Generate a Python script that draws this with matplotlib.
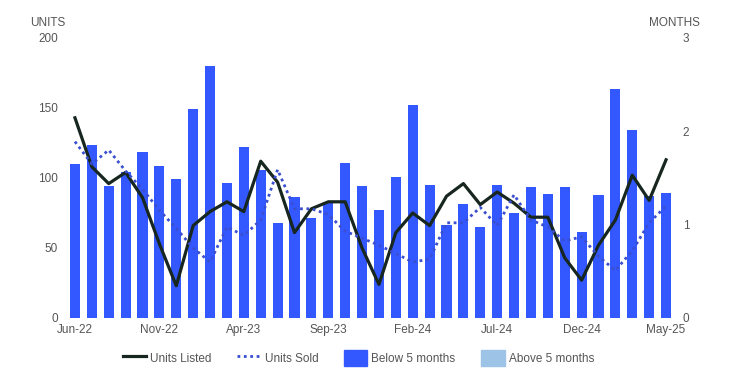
import matplotlib.pyplot as plt
from matplotlib.lines import Line2D
from matplotlib.patches import Patch

plt.rcParams['font.family'] = ['Liberation Sans', 'DejaVu Sans']

months = ["Jun-22", "Jul-22", "Aug-22", "Sep-22", "Oct-22", "Nov-22",
          "Dec-22", "Jan-23", "Feb-23", "Mar-23", "Apr-23", "May-23",
          "Jun-23", "Jul-23", "Aug-23", "Sep-23", "Oct-23", "Nov-23",
          "Dec-23", "Jan-24", "Feb-24", "Mar-24", "Apr-24", "May-24",
          "Jun-24", "Jul-24", "Aug-24", "Sep-24", "Oct-24", "Nov-24",
          "Dec-24", "Jan-25", "Feb-25", "Mar-25", "Apr-25", "May-25"]

units_listed = [143, 108, 96, 104, 86, 53, 23, 66, 76, 83, 76, 112,
                97, 61, 78, 83, 83, 50, 24, 61, 75, 66, 87, 96,
                81, 90, 82, 72, 72, 43, 27, 52, 70, 102, 84, 113]

units_sold = [126, 110, 120, 105, 92, 77, 64, 50, 40, 65, 59, 70,
              106, 78, 78, 74, 62, 57, 52, 46, 40, 42, 68, 68,
              79, 66, 88, 70, 65, 55, 58, 44, 34, 48, 68, 80]

# months of inventory (right axis)
below_5 = [1.65, 1.85, 1.41, 1.56, 1.78, 1.63, 1.49, 2.24, 2.70, 1.45, 1.83, 1.59,
           1.02, 1.30, 1.07, 1.23, 1.66, 1.41, 1.16, 1.51, 2.28, 1.43, 1.00, 1.22,
           0.98, 1.43, 1.13, 1.40, 1.33, 1.40, 0.92, 1.32, 2.45, 2.01, 1.31, 1.34]

BAR_COLOR = "#3358FF"
LIGHT_COLOR = "#9DC3E6"
LISTED_COLOR = "#17271F"
SOLD_COLOR = "#3A4FD0"
TEXT_COLOR = "#555555"
SOLD_STYLE = (0, (1, 1.3))

fig = plt.figure(figsize=(7.34, 3.9), dpi=100)
ax = fig.add_axes([66.5 / 734, 72 / 390, 608 / 734, 280 / 390])
ax2 = ax.twinx()

x = list(range(len(months)))
ax2.bar(x, below_5, width=0.6, color=BAR_COLOR)
ax.plot(x, units_listed, color=LISTED_COLOR, linewidth=2.3)
ax.plot(x, units_sold, color=SOLD_COLOR, linewidth=2, linestyle=SOLD_STYLE)

ax.set_zorder(ax2.get_zorder() + 1)
ax.patch.set_visible(False)

ax.set_xlim(-0.5, len(months) - 0.5)
ax.set_ylim(0, 200)
ax2.set_ylim(0, 3)
ax.set_yticks([0, 50, 100, 150, 200])
ax2.set_yticks([0, 1, 2, 3])
ax.set_xticks(x[::5])
ax.set_xticklabels(months[::5])

for a in (ax, ax2):
    for s in a.spines.values():
        s.set_visible(False)
    a.tick_params(length=0, labelsize=8.5, labelcolor=TEXT_COLOR)
ax.tick_params(axis='y', pad=6)
ax2.tick_params(axis='y', pad=6)
ax.tick_params(axis='x', pad=4)

fig.text(30 / 734, 1 - 22.7 / 390, "UNITS", fontsize=8.5, color=TEXT_COLOR, va='center')
fig.text(649 / 734, 1 - 22.7 / 390, "MONTHS", fontsize=8.5, color=TEXT_COLOR, va='center')

handles = [
    Line2D([0], [0], color=LISTED_COLOR, linewidth=2.3),
    Line2D([0], [0], color=SOLD_COLOR, linewidth=2, linestyle=SOLD_STYLE),
    Patch(color=BAR_COLOR),
    Patch(color=LIGHT_COLOR),
]
labels = ["Units Listed", "Units Sold", "Below 5 months", "Above 5 months"]
leg = fig.legend(handles, labels, loc='center', bbox_to_anchor=(358.5 / 734, 1 - 358 / 390),
                 ncol=4, frameon=False, fontsize=8.5, handlelength=1.95,
                 handleheight=1.7, handletextpad=0.35, columnspacing=2.2)
for t in leg.get_texts():
    t.set_color(TEXT_COLOR)

fig.savefig("out.png", dpi=100)
